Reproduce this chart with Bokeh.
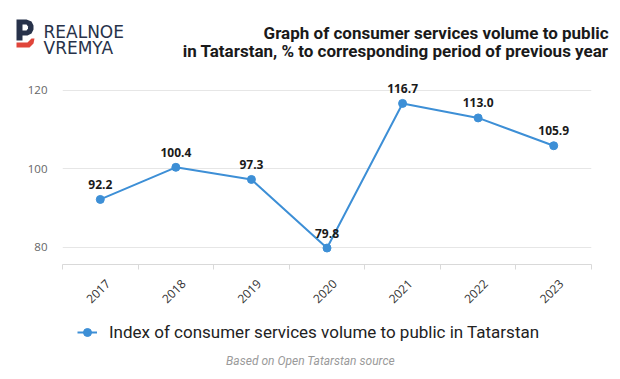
import math
from bokeh.plotting import figure
from bokeh.models import Range1d, FixedTicker, Legend, LegendItem, ColumnDataSource
from bokeh.core.properties import value
from bokeh.embed import file_html
from bokeh.resources import INLINE

# ---- data ----
years = [2017, 2018, 2019, 2020, 2021, 2022, 2023]
index_values = [92.2, 100.4, 97.3, 79.8, 116.7, 113.0, 105.9]
y_ticks = [80, 100, 120]
series_name = "Index of consumer services volume to public in Tatarstan"
title_lines = ["Graph of consumer services volume to public",
               "in Tatarstan, % to corresponding period of previous year"]
logo_lines = ["REALNOE", "VREMYA"]
source_note = "Based on Open Tatarstan source"

LINE_COLOR = "#3d8fd6"
FONT = "Roboto"
W = 620


def blank(h, y0, y1):
    f = figure(width=W, height=h, output_backend="svg", toolbar_location=None,
               x_range=Range1d(0, W), y_range=Range1d(y1, y0),
               x_axis_location=None, y_axis_location=None,
               min_border=0)
    f.outline_line_color = None
    f.grid.visible = False
    return f


src = ColumnDataSource(dict(x=years, y=index_values,
                            lbl=[f"{v:.1f}" for v in index_values]))

# ---------------- header ----------------
head = blank(62, 0, 62)
head.text(x=[608, 608], y=[32, 50], text=title_lines, text_align="right",
          text_baseline="alphabetic", text_font=value(FONT),
          text_font_size="17px", text_font_style="bold", text_color="#1a1a1a")
head.text(x=[43, 43], y=[31, 47], text=logo_lines, text_align="left",
          text_baseline="alphabetic", text_font=value("DejaVu Sans"),
          text_font_size="17px", text_color="#27324a")
# logo mark
head.patch([16, 26, 31, 33, 33, 31, 27, 22, 22, 16],
           [19, 19, 21, 25, 29, 33, 35, 35, 40, 40],
           fill_color="#27324a", line_color=None)
head.patch([22, 26, 27.5, 27.5, 26, 22], [24, 24, 26, 28, 30, 30],
           fill_color="white", line_color=None)
head.patch([16, 27, 31, 34, 33, 29, 16], [42, 42, 38, 38, 43, 47, 47],
           fill_color="#e0453a", line_color=None)

# ---------------- main chart ----------------
label_shift = 0.1
p = figure(width=W, height=248, output_backend="svg", toolbar_location=None,
           x_range=Range1d(years[0] - 0.5, years[-1] + 0.5),
           y_range=Range1d(75.6, 125.1),
           min_border_left=62, min_border_right=29,
           min_border_top=8, min_border_bottom=46)
p.outline_line_color = None

line_r = p.line("x", "y", source=src, line_color=LINE_COLOR, line_width=2)
pt_r = p.scatter("x", "y", source=src, size=8, fill_color=LINE_COLOR,
                 line_color=LINE_COLOR)
p.text("x", "y", text="lbl", source=src, text_align="center",
       text_baseline="middle", y_offset=-15, text_font=value("Open Sans"),
       text_font_size="12px", text_font_style="bold", text_color="#1a1a1a")

p.xgrid.visible = False
p.ygrid.grid_line_color = "#e6e6e6"
p.ygrid.grid_line_width = 1

yax = p.yaxis[0]
yax.ticker = FixedTicker(ticks=y_ticks)
yax.axis_line_color = None
yax.major_tick_line_color = None
yax.minor_tick_line_color = None
yax.major_tick_out = 0
yax.major_tick_in = 0
yax.minor_tick_out = 0
yax.minor_tick_in = 0
yax.major_label_standoff = 15
yax.major_label_text_font = "Open Sans"
yax.major_label_text_font_size = "11.5px"
yax.major_label_text_color = "#666666"

xax = p.xaxis[0]
label_pos = [y + label_shift for y in years]
xax.ticker = FixedTicker(ticks=label_pos,
                         minor_ticks=[y - 0.5 for y in years] + [years[-1] + 0.5])
xax.major_label_overrides = {lp: str(y) for lp, y in zip(label_pos, years)}
xax.axis_line_color = "#d9d9d9"
xax.major_tick_line_color = None
xax.major_tick_in = 0
xax.major_tick_out = 0
xax.minor_tick_line_color = "#d9d9d9"
xax.minor_tick_in = 0
xax.minor_tick_out = 5
xax.major_label_orientation = math.pi / 4
xax.major_label_standoff = 12
xax.major_label_text_font = "Open Sans"
xax.major_label_text_font_size = "12px"
xax.major_label_text_color = "#333333"

# ---------------- footer (legend + source) ----------------
foot = blank(69, 310, 379)
# legend proxies share the series data; they fall outside this strip's frame
lg_line = foot.line("x", "y", source=src, line_color=LINE_COLOR, line_width=2)
lg_pt = foot.scatter("x", "y", source=src, size=8, fill_color=LINE_COLOR,
                     line_color=LINE_COLOR)
legend = Legend(items=[LegendItem(label=series_name, renderers=[lg_line, lg_pt])],
                location=(77, 37), orientation="horizontal",
                border_line_color=None, background_fill_alpha=0,
                padding=0, margin=0, spacing=0,
                glyph_width=20, glyph_height=20, label_standoff=12,
                label_text_font=FONT, label_text_font_size="17px",
                label_text_color="#222222", label_height=20)
foot.add_layout(legend, "center")
foot.text(x=[310], y=[360], text=[source_note], text_align="center",
          text_baseline="middle", text_font=value(FONT),
          text_font_size="12px", text_font_style="italic", text_color="#9a9a9a")

open("out.html", "w").write(file_html([head, p, foot], INLINE))
